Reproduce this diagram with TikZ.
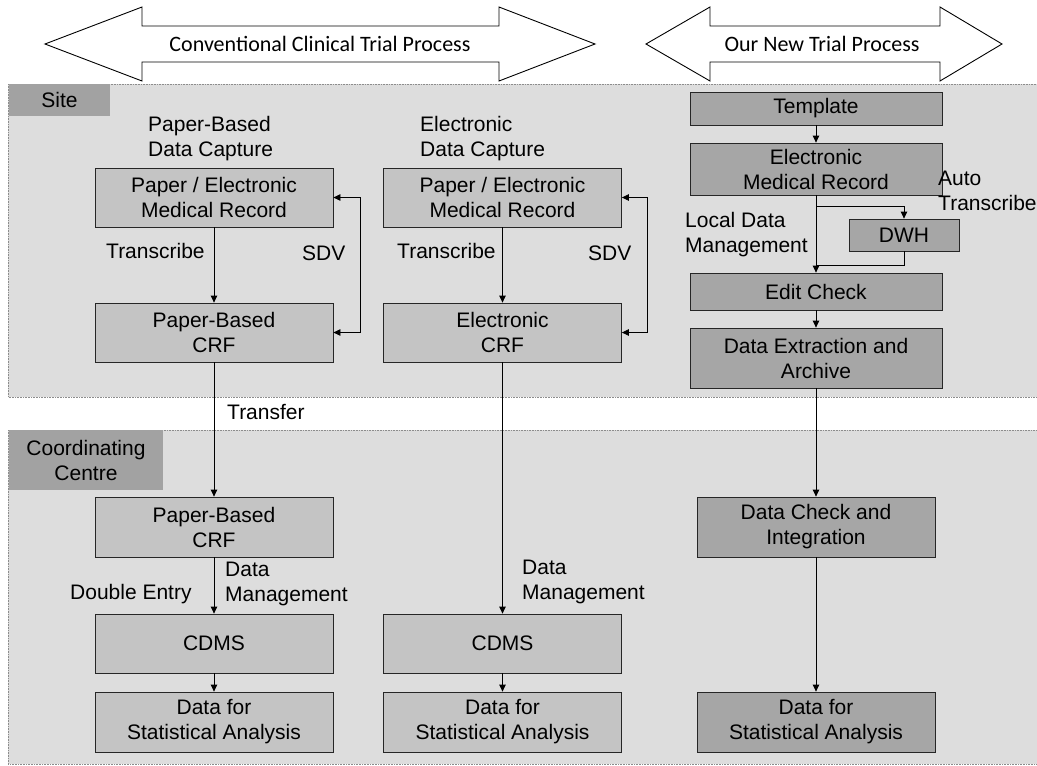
\documentclass[tikz,border=0pt]{standalone}
\usepackage{fontspec}
\setmainfont{Liberation Sans}
\newfontfamily\hdfont{Carlito}
\usetikzlibrary{arrows.meta}
\definecolor{bandgray}{HTML}{DDDDDD}
\definecolor{tabgray}{HTML}{A2A2A2}
\definecolor{boxgray}{HTML}{C4C4C4}
\definecolor{newgray}{HTML}{A6A6A6}
\newcommand\bxfont{\fontsize{21}{25}\selectfont}
\newcommand\hdsize{\hdfont\fontsize{22}{26}\selectfont}
\tikzset{
  band/.style={fill=bandgray, draw=black!45, densely dotted, line width=0.6pt},
  tab/.style={fill=tabgray, draw=none, inner sep=0pt, align=center, font=\bxfont},
  box/.style={draw=black!85, line width=0.8pt, fill=boxgray, inner sep=0pt,
    align=center, font=\bxfont, minimum width=238pt, minimum height=59pt},
  newbox/.style={box, fill=newgray},
  lbl/.style={inner sep=0pt, align=left, font=\bxfont, anchor=north west},
  arr/.style={-{Triangle[length=7pt,width=6.5pt]}, line width=0.8pt},
  dblarr/.style={{Triangle[length=7pt,width=6.5pt]}-{Triangle[length=7pt,width=6.5pt]}, line width=0.8pt},
  link/.style={line width=0.8pt},
  banner/.style={draw=black, line width=0.9pt, fill=white, line join=miter}
}
\begin{document}
\begin{tikzpicture}[x=1pt, y=-1pt]
\useasboundingbox (0,0) rectangle (1037,766);

% process banners
\draw[banner] (45,44) -- (142,7) -- (142,26) -- (499,26) -- (499,7) -- (595,44)
  -- (499,81) -- (499,62) -- (142,62) -- (142,81) -- cycle;
\node[font=\hdsize, inner sep=0pt] (convtitle) at (320,44) {Conventional Clinical Trial Process};
\draw[banner] (646,44) -- (710,7) -- (710,26) -- (940,26) -- (940,7) -- (1002,44)
  -- (940,81) -- (940,62) -- (710,62) -- (710,81) -- cycle;
\node[font=\hdsize, inner sep=0pt] (newtitle) at (822,44) {Our New Trial Process};

% swim lanes
\draw[band] (8,84) rectangle (1037,397);
\node[tab, minimum width=101pt, minimum height=32pt] (sitetab) at (59.5,100) {Site};
\draw[band] (8,430) rectangle (1037,764);
\node[tab, minimum width=154pt, minimum height=60pt] (cctab) at (86,460) {Coordinating\\Centre};

% paper-based column
\node[lbl] (pbcap) at (148,116) {Paper-Based\\Data Capture};
\node[box] (pemr1) at (214,197.5) {Paper / Electronic\\Medical Record};
\node[box] (crf1) at (214,332.5) {Paper-Based\\CRF};
\node[box, minimum height=60pt] (crf1b) at (214,527) {Paper-Based\\CRF};
\node[box] (cdms1) at (214,643.5) {CDMS};
\node[box, minimum height=60pt] (dsa1) at (214,722) {Data for\\Statistical Analysis};

\draw[arr] (pemr1) -- (crf1);
\draw[dblarr] (pemr1.east) -- ++(27,0) |- (crf1.east);
\draw[arr] (crf1) -- (crf1b);
\draw[arr] (crf1b) -- (cdms1);
\draw[arr] (cdms1) -- (dsa1);
\node[lbl] (tr1) at (106,243) {Transcribe};
\node[lbl] (sdv1) at (302,246) {SDV};
\node[lbl] (transfer) at (227,404) {Transfer};
\node[lbl] (dm1) at (225,562) {Data\\Management};
\node[lbl] (dbl) at (70,584) {Double Entry};

% electronic column
\node[lbl] (edcap) at (420,116) {Electronic\\Data Capture};
\node[box] (pemr2) at (502.5,197.5) {Paper / Electronic\\Medical Record};
\node[box] (ecrf) at (502.5,332.5) {Electronic\\CRF};
\node[box] (cdms2) at (502.5,643.5) {CDMS};
\node[box, minimum height=60pt] (dsa2) at (502.5,722) {Data for\\Statistical Analysis};

\draw[arr] (pemr2) -- (ecrf);
\draw[dblarr] (pemr2.east) -- ++(25,0) |- (ecrf.east);
\draw[arr] (ecrf) -- (cdms2);
\draw[arr] (cdms2) -- (dsa2);
\node[lbl] (tr2) at (397,243) {Transcribe};
\node[lbl] (sdv2) at (588,246) {SDV};
\node[lbl] (dm2) at (522,560) {Data\\Management};

% new trial column
\node[newbox, minimum width=252pt, minimum height=33pt] (template) at (816,108.5) {Template};
\node[newbox, minimum width=252pt, minimum height=52pt] (emr) at (816,169) {Electronic\\Medical Record};
\node[newbox, minimum width=110pt, minimum height=32pt] (dwh) at (904,235) {DWH};
\node[newbox, minimum width=252pt, minimum height=37pt] (edit) at (816,291.5) {Edit Check};
\node[newbox, minimum width=252pt, minimum height=60pt] (dea) at (816,358) {Data Extraction and\\Archive};
\node[newbox, minimum height=60pt] (dci) at (816,527) {Data Check and\\Integration};
\node[newbox, minimum height=60pt] (dsa3) at (816,722) {Data for\\Statistical Analysis};

\coordinate (split) at (816,206);
\coordinate (join) at (816,265);
\draw[arr] (template) -- (emr);
\draw[arr] (emr) -- (edit);
\draw[arr] (split) -| (dwh.north);
\draw[link] (dwh.south) |- (join);
\draw[arr] (edit) -- (dea);
\draw[arr] (dea) -- (dci);
\draw[arr] (dci) -- (dsa3);
\node[lbl] (auto) at (938,171) {Auto\\Transcribe};
\node[lbl] (ldm) at (685,212) {Local Data\\Management};
\end{tikzpicture}
\end{document}
